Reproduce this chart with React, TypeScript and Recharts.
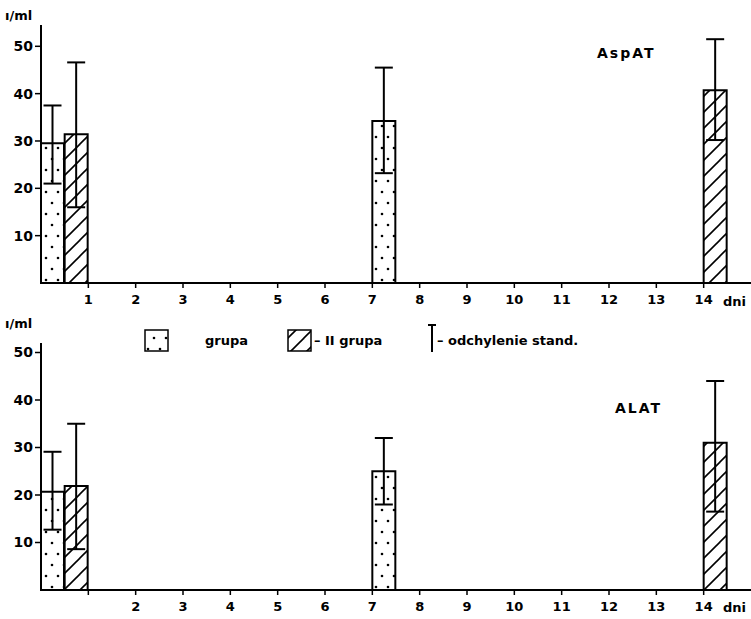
import { ComposedChart, Bar, Cell, ErrorBar, XAxis, YAxis } from "recharts";

// bar centres on the day axis (group I / group II side by side on day 1)
const barDays = [0.25, 0.75, 7.25, 14.25];
const barGroups = ["I", "II", "I", "II"];

// AspAT, j/ml
const aspatMeans = [29.5, 31.4, 34.2, 40.7];
const aspatLow = [21.0, 16.0, 23.2, 30.2];
const aspatHigh = [37.5, 46.6, 45.5, 51.5];

// ALAT, j/ml
const alatMeans = [20.7, 21.9, 25.0, 31.0];
const alatLow = [12.7, 8.6, 18.0, 16.5];
const alatHigh = [29.1, 35.0, 32.0, 44.0];

const dayTicks = [1, 2, 3, 4, 5, 6, 7, 8, 9, 10, 11, 12, 13, 14];
const valueTicks = [10, 20, 30, 40, 50];

const FONT = '"DejaVu Sans", sans-serif';

function buildRows(means: number[], lows: number[], highs: number[]) {
  return barDays.map((x, i) => ({
    x,
    group: barGroups[i],
    value: means[i],
    err: [means[i] - lows[i], highs[i] - means[i]],
  }));
}

interface PanelProps {
  rows: ReturnType<typeof buildRows>;
  yMax: number;
  height: number;
  top: number;
  showFirstDay: boolean;
}

function Panel({ rows, yMax, height, top, showFirstDay }: PanelProps) {
  return (
    <div style={{ position: "absolute", left: 0, top }}>
      <ComposedChart
        width={751}
        height={height}
        data={rows}
        margin={{ top: 25, right: 0, bottom: 0, left: 0 }}
      >
        <XAxis
          type="number"
          dataKey="x"
          domain={[0, 15]}
          ticks={dayTicks}
          interval={0}
          height={29}
          axisLine={{ stroke: "#000", strokeWidth: 2 }}
          tickLine={{ stroke: "#000", strokeWidth: 1.5 }}
          tickSize={5}
          tickMargin={7}
          tick={{ fill: "#000", fontSize: 13, fontFamily: FONT, fontWeight: 600 }}
          tickFormatter={(d: number) => (!showFirstDay && d === 1 ? "" : String(d))}
        />
        <YAxis
          type="number"
          domain={[0, yMax]}
          ticks={valueTicks}
          interval={0}
          width={41}
          axisLine={{ stroke: "#000", strokeWidth: 2 }}
          tickLine={{ stroke: "#000", strokeWidth: 1.5 }}
          tickSize={6}
          tickMargin={2}
          tick={{ fill: "#000", fontSize: 14, fontFamily: FONT, fontWeight: 600 }}
        />
        <Bar dataKey="value" barSize={23} stroke="#000" strokeWidth={2} isAnimationActive={false}>
          {rows.map((r, i) => (
            <Cell key={`cell-${i}`} fill={r.group === "I" ? "url(#dots)" : "url(#hatch)"} />
          ))}
          <ErrorBar dataKey="err" width={9} stroke="#000" strokeWidth={2} />
        </Bar>
      </ComposedChart>
    </div>
  );
}

function Text({ x, y, children, size = 13, spacing = 0 }: any) {
  return (
    <div
      style={{
        position: "absolute",
        left: x,
        top: y,
        transform: "translateY(-50%)",
        fontFamily: FONT,
        fontSize: size,
        fontWeight: 600,
        letterSpacing: spacing,
        whiteSpace: "nowrap",
        color: "#000",
        lineHeight: 1,
      }}
    >
      {children}
    </div>
  );
}

export default function App() {
  const aspatRows = buildRows(aspatMeans, aspatLow, aspatHigh);
  const alatRows = buildRows(alatMeans, alatLow, alatHigh);

  return (
    <div style={{ position: "absolute", left: 0, top: 0, width: 751, height: 619, background: "#fff", overflow: "hidden" }}>
      <svg width={0} height={0} style={{ position: "absolute" }}>
        <defs>
          <pattern id="dots" patternUnits="userSpaceOnUse" width={12} height={22}>
            <rect width={12} height={22} fill="#fff" />
            <circle cx={4} cy={5} r={1.3} fill="#000" />
            <circle cx={10} cy={16} r={1.3} fill="#000" />
          </pattern>
          <pattern id="hatch" patternUnits="userSpaceOnUse" width={16} height={16}>
            <rect width={16} height={16} fill="#fff" />
            <line x1={0} y1={16} x2={16} y2={0} stroke="#000" strokeWidth={1.6} />
            <line x1={-4} y1={4} x2={4} y2={-4} stroke="#000" strokeWidth={1.6} />
            <line x1={12} y1={20} x2={20} y2={12} stroke="#000" strokeWidth={1.6} />
          </pattern>
        </defs>
      </svg>

      <Panel rows={aspatRows} yMax={54.5} height={312} top={0} showFirstDay={true} />
      <Panel rows={alatRows} yMax={52} height={301} top={318} showFirstDay={false} />

      <Text x={5} y={15}>ı/ml</Text>
      <Text x={5} y={323}>ı/ml</Text>
      <Text x={597} y={53} size={14} spacing={2}>AspAT</Text>
      <Text x={615} y={408} size={14} spacing={2}>ALAT</Text>
      <Text x={723} y={301}>dni</Text>
      <Text x={723} y={607}>dni</Text>

      <svg width={751} height={40} style={{ position: "absolute", left: 0, top: 322 }}>
        <rect x={145} y={8} width={23} height={21} fill="url(#dots)" stroke="#000" strokeWidth={1.5} />
        <rect x={288} y={8} width={23} height={21} fill="url(#hatch)" stroke="#000" strokeWidth={1.5} />
        <line x1={432} y1={3} x2={432} y2={30} stroke="#000" strokeWidth={2} />
        <line x1={428} y1={3} x2={436} y2={3} stroke="#000" strokeWidth={2} />
      </svg>
      <Text x={205} y={340}>grupa</Text>
      <Text x={314} y={340}>– II grupa</Text>
      <Text x={437} y={340}>– odchylenie stand.</Text>
    </div>
  );
}
